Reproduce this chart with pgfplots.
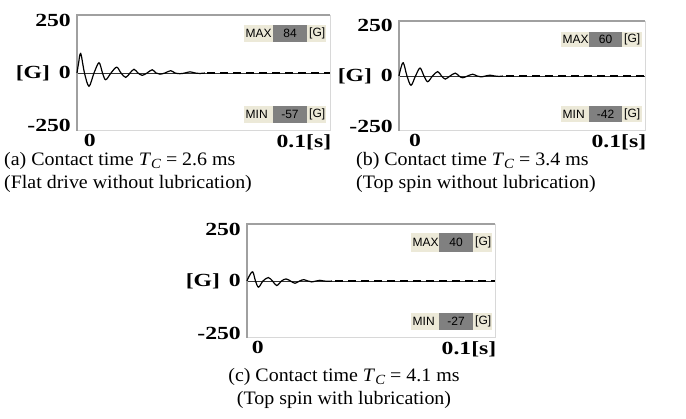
\documentclass[border=0pt]{standalone}
\usepackage{fontspec}
\setmainfont{Liberation Serif}
\newfontfamily\capfont[FakeStretch=1.05]{Liberation Serif}
\newfontfamily\labfont[FakeStretch=1.28]{Liberation Serif}
\newfontfamily\boxfont{Liberation Sans}
\usepackage{pgfplots}
\pgfplotsset{compat=1.18}

\definecolor{facebg}{HTML}{ECE9D8}
\definecolor{valbg}{HTML}{808080}
\definecolor{frametop}{HTML}{A0A0A0}
\definecolor{framelow}{HTML}{D8D8D8}

\pgfplotsset{
  panel/.style={
    scale only axis, anchor=south west, clip=false,
    xmin=0, xmax=100, ymin=-250, ymax=250,
    axis line style={draw=none}, tick style={draw=none},
    ytick={-228,0,228},
    yticklabels={-250,{[G]\hspace{9pt}0},250},
    xticklabels={0,{0.1[s]}},
    ticklabel style={font=\labfont\bfseries\fontsize{18.5}{18.5}\selectfont},
    yticklabel style={inner sep=0pt, xshift=-6pt},
    xticklabel style={inner sep=0pt, yshift=-3pt},
  },
  sig/.style={black, line width=1.2pt, smooth, tension=0.55},
  tail/.style={black, line width=1.8pt, dash pattern=on 8pt off 5pt},
}

% frame of one scope window
\newcommand{\scopeframe}{%
  \draw[black!80, line width=0.5pt] (axis cs:0,0) -- (axis cs:100,0);
  \draw[framelow, line width=1pt] (rel axis cs:1,1) -- (rel axis cs:1,0) -- (rel axis cs:0,0);
  \draw[frametop, line width=1.6pt] (rel axis cs:0,0) -- (rel axis cs:0,1) -- (rel axis cs:1,1);
}

% #1 left, #2 value left, #3 value right, #4 right, #5 top, #6 bottom, #7 name, #8 value
\newcommand{\valbox}[8]{%
  \fill[facebg] (#1,#5) rectangle (#4,#6);
  \fill[valbg] (#2,#5) rectangle (#3,#6);
  \node[anchor=west, inner sep=0pt, font=\boxfont\fontsize{12}{12}\selectfont] at (#1+1.5,{(#5+#6)/2}) {#7};
  \node[inner sep=0pt, font=\boxfont\fontsize{12}{12}\selectfont] at ({(#2+#3)/2},{(#5+#6)/2}) {#8};
  \node[anchor=west, inner sep=0pt, font=\boxfont\fontsize{12}{12}\selectfont] at (#3+2,{(#5+#6)/2}) {[G]};
}

\newcommand{\tc}{\textit{T}\raisebox{-0.3ex}{\fontsize{14}{14}\selectfont\textit{C}}}

\begin{document}
\begin{tikzpicture}
\path[use as bounding box] (0pt,0pt) rectangle (686pt,-419pt);

% (a) flat drive without lubrication
\begin{axis}[panel, at={(77pt,-131pt)}, width=253pt, height=116pt, xtick={5.1,89.7}]
\scopeframe
\addplot[sig] coordinates {
(0,0) (0.59,40) (1.46,84) (2.96,0) (4.74,-57) (6.72,0) (8.70,44) (10.08,0)
(11.34,-29) (13.44,0) (15.69,25) (17.39,0) (19.25,-19) (20.95,0) (22.53,16)
(24.11,0) (25.81,-10) (27.67,0) (29.76,14) (31.23,0) (32.81,-5) (34.78,0)
(37.04,10) (38.74,0) (40.71,-3) (42.69,0) (44.66,5) (46.64,0) (48.62,-2) (50.59,0)};
\addplot[tail] coordinates {(51.5,0) (100,0)};
\end{axis}

% (b) top spin without lubrication
\begin{axis}[panel, at={(399pt,-131pt)}, width=246pt, height=110pt, xtick={6.5,89.4}]
\scopeframe
\addplot[sig] coordinates {
(0,0) (0.61,30) (1.75,60) (3.25,0) (4.88,-42) (6.71,0) (8.54,36) (10.16,0)
(11.67,-26) (13.62,0) (15.73,20) (17.28,0) (18.82,-14) (20.73,0) (22.89,13)
(24.39,0) (25.89,-8) (27.85,0) (29.96,8) (31.71,0) (33.33,-4) (35.16,0)
(36.99,4) (38.82,0) (40.65,-2) (42.28,0)};
\addplot[tail] coordinates {(43.5,0) (100,0)};
\end{axis}

% (c) top spin with lubrication
\begin{axis}[panel, at={(247pt,-338pt)}, width=248pt, height=114pt, xtick={4.4,89.5}]
\scopeframe
\addplot[sig] coordinates {
(0,0) (0.81,20) (2.30,40) (3.43,0) (4.64,-27) (6.45,0) (8.59,15) (10.28,0)
(11.98,-20) (13.91,0) (15.73,9) (17.54,0) (19.35,-10) (21.17,0) (22.98,6)
(24.60,0) (26.09,-4) (27.82,0) (29.43,3) (31.05,0) (32.66,-1.5) (34.27,0)};
\addplot[tail] coordinates {(35.5,0) (100,0)};
\end{axis}

\begin{scope}[x=1pt, y=-1pt]
\valbox{244}{273}{307}{326}{25}{42}{MAX}{84}
\valbox{244}{273}{307}{326}{106}{123}{MIN}{-57}
\valbox{561}{589}{622}{642}{32}{47}{MAX}{60}
\valbox{561}{589}{622}{642}{106}{122}{MIN}{-42}
\valbox{411}{439}{473}{492}{233}{252}{MAX}{40}
\valbox{411}{439}{473}{492}{313}{330}{MIN}{-27}

\begin{scope}[every node/.style={inner sep=0pt, font=\capfont\fontsize{19}{19}\selectfont}]
\node[anchor=west] at (4,161) {(a) Contact time \tc{} = 2.6 ms};
\node[anchor=west] at (4,184) {(Flat drive without lubrication)};
\node[anchor=west] at (356,161) {(b) Contact time \tc{} = 3.4 ms};
\node[anchor=west] at (356,184) {(Top spin without lubrication)};
\node at (344,377) {(c) Contact time \tc{} = 4.1 ms};
\node at (344,400) {(Top spin with lubrication)};
\end{scope}
\end{scope}
\end{tikzpicture}
\end{document}
